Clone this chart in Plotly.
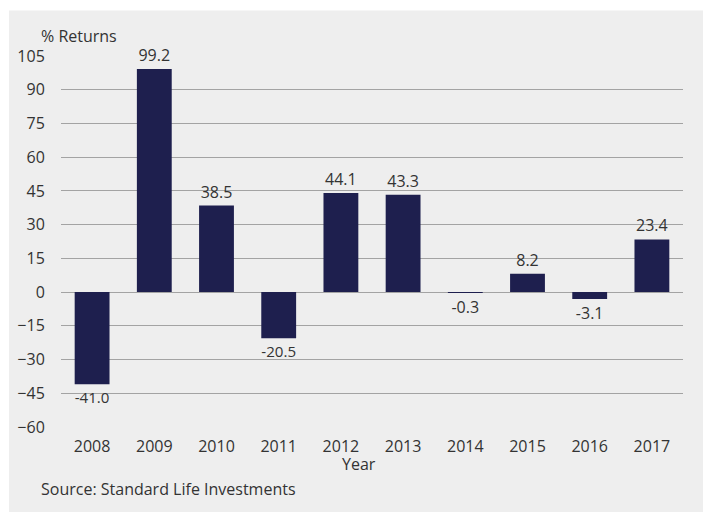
import plotly.graph_objects as go

years = ["2008", "2009", "2010", "2011", "2012", "2013", "2014", "2015", "2016", "2017"]
returns = [-41.0, 99.2, 38.5, -20.5, 44.1, 43.3, -0.3, 8.2, -3.1, 23.4]
y_ticks = [105, 90, 75, 60, 45, 30, 15, 0, -15, -30, -45, -60]

BAR = "#1e1f4e"
TEXT = "#333333"
PANEL = "#eeeeee"
GRID = "#a3a3a3"
FONT = "Open Sans"
SIZE = 16

fig = go.Figure(
    go.Bar(
        x=years,
        y=returns,
        marker=dict(color=BAR, line=dict(width=0)),
        texttemplate="%{y:.1f}",
        textposition="outside",
        textfont=dict(family=FONT, size=SIZE, color=TEXT),
        cliponaxis=False,
    )
)

fig.update_layout(
    width=703,
    height=512,
    margin=dict(l=61, r=20, t=56, b=85),
    paper_bgcolor="white",
    plot_bgcolor=PANEL,
    font=dict(family=FONT, size=SIZE, color=TEXT),
    bargap=0.44,
    showlegend=False,
    xaxis=dict(
        showgrid=False,
        showline=False,
        zeroline=False,
        ticks="outside",
        ticklen=5,
        tickcolor="rgba(0,0,0,0)",
        tickfont=dict(size=SIZE, color=TEXT),
    ),
    yaxis=dict(
        range=[-60, 105],
        tickvals=y_ticks,
        showgrid=True,
        gridcolor=GRID,
        gridwidth=1.2,
        zeroline=False,
        showline=False,
        ticks="outside",
        ticklen=12,
        tickcolor="rgba(0,0,0,0)",
        tickfont=dict(size=SIZE, color=TEXT),
    ),
    shapes=[
        dict(
            type="rect", xref="paper", yref="paper",
            x0=-0.0836, x1=1.1, y0=-0.3, y1=1.1225,
            fillcolor=PANEL, line=dict(width=0), layer="below",
        )
    ],
    annotations=[
        dict(text="% Returns", xref="paper", yref="paper", x=-0.036, y=1.054,
             xanchor="left", yanchor="middle", showarrow=False,
             font=dict(family=FONT, size=SIZE, color=TEXT)),
        dict(text="Year", xref="paper", yref="paper", x=0.479, y=-0.1,
             xanchor="center", yanchor="middle", showarrow=False,
             font=dict(family=FONT, size=SIZE, color=TEXT)),
        dict(text="Source: Standard Life Investments", xref="paper", yref="paper",
             x=-0.036, y=-0.1658, xanchor="left", yanchor="middle", showarrow=False,
             font=dict(family=FONT, size=SIZE, color=TEXT)),
    ],
)

fig.write_html("out.html")
